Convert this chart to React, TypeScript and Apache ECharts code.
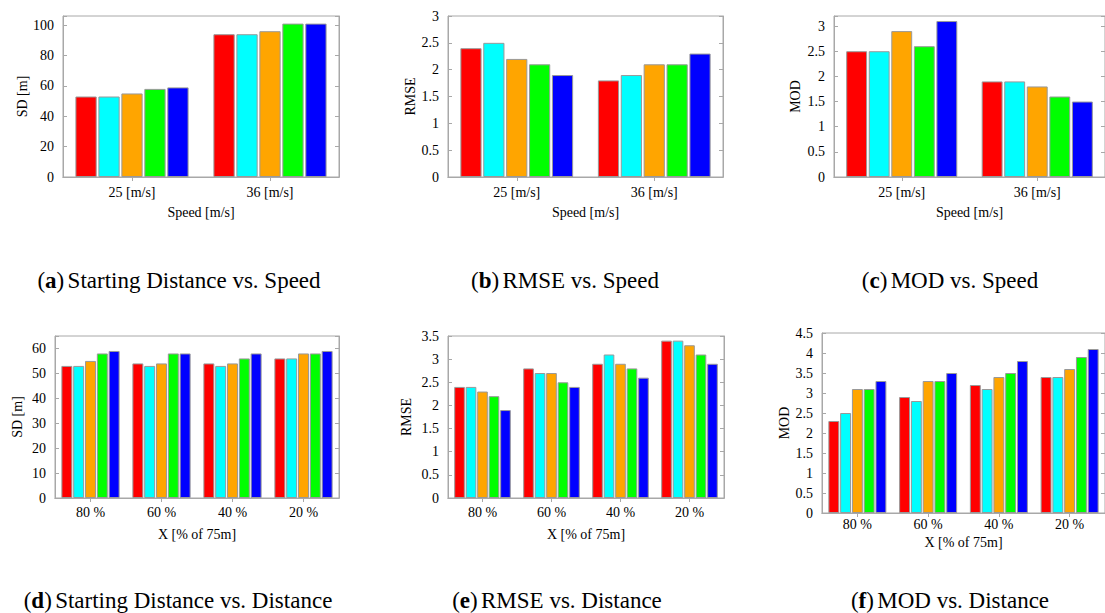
import React, { useEffect, useRef } from "react";
import * as echarts from "echarts";

const speedCats = ["25 [m/s]", "36 [m/s]"];
const distCats = ["80 %", "60 %", "40 %", "20 %"];

const barColors = ["#ff0000", "#00ffff", "#ffa500", "#00ff00", "#0000ff"];

// (a) Starting distance vs speed — one array per bar colour
const sdSpeedRed = [53, 94];
const sdSpeedCyan = [53, 94];
const sdSpeedOrange = [55, 96];
const sdSpeedGreen = [58, 101];
const sdSpeedBlue = [59, 101];

// (b) RMSE vs speed
const rmseSpeedRed = [2.4, 1.8];
const rmseSpeedCyan = [2.5, 1.9];
const rmseSpeedOrange = [2.2, 2.1];
const rmseSpeedGreen = [2.1, 2.1];
const rmseSpeedBlue = [1.9, 2.3];

// (c) MOD vs speed
const modSpeedRed = [2.5, 1.9];
const modSpeedCyan = [2.5, 1.9];
const modSpeedOrange = [2.9, 1.8];
const modSpeedGreen = [2.6, 1.6];
const modSpeedBlue = [3.1, 1.5];

// (d) Starting distance vs distance
const sdDistRed = [53, 54, 54, 56];
const sdDistCyan = [53, 53, 53, 56];
const sdDistOrange = [55, 54, 54, 58];
const sdDistGreen = [58, 58, 56, 58];
const sdDistBlue = [59, 58, 58, 59];

// (e) RMSE vs distance
const rmseDistRed = [2.4, 2.8, 2.9, 3.4];
const rmseDistCyan = [2.4, 2.7, 3.1, 3.4];
const rmseDistOrange = [2.3, 2.7, 2.9, 3.3];
const rmseDistGreen = [2.2, 2.5, 2.8, 3.1];
const rmseDistBlue = [1.9, 2.4, 2.6, 2.9];

// (f) MOD vs distance
const modDistRed = [2.3, 2.9, 3.2, 3.4];
const modDistCyan = [2.5, 2.8, 3.1, 3.4];
const modDistOrange = [3.1, 3.3, 3.4, 3.6];
const modDistGreen = [3.1, 3.3, 3.5, 3.9];
const modDistBlue = [3.3, 3.5, 3.8, 4.1];

const FONT = "'Liberation Serif', 'Times New Roman', serif";
const FRAME = "#a8a8a8";

type Panel = {
  grid: { left: number; top: number; width: number; height: number };
  cats: string[];
  series: number[][];
  yName: string;
  xName: string;
  yMax: number;
  yInterval: number;
  yNameGap: number;
  xLabelMargin: number;
  xNameGap: number;
  caption: { letter: string; text: string; x: number; y: number };
};

const panels: Panel[] = [
  {
    grid: { left: 63, top: 16, width: 276, height: 161 },
    cats: speedCats,
    series: [sdSpeedRed, sdSpeedCyan, sdSpeedOrange, sdSpeedGreen, sdSpeedBlue],
    yName: "SD [m]",
    xName: "Speed [m/s]",
    yMax: 106,
    yInterval: 20,
    yNameGap: 32,
    xLabelMargin: 8,
    xNameGap: 28,
    caption: { letter: "a", text: "Starting Distance vs. Speed", x: 179, y: 280 },
  },
  {
    grid: { left: 448, top: 16, width: 275, height: 161 },
    cats: speedCats,
    series: [rmseSpeedRed, rmseSpeedCyan, rmseSpeedOrange, rmseSpeedGreen, rmseSpeedBlue],
    yName: "RMSE",
    xName: "Speed [m/s]",
    yMax: 3,
    yInterval: 0.5,
    yNameGap: 31,
    xLabelMargin: 8,
    xNameGap: 28,
    caption: { letter: "b", text: "RMSE vs. Speed", x: 565, y: 280 },
  },
  {
    grid: { left: 834, top: 16, width: 276, height: 161 },
    cats: speedCats,
    series: [modSpeedRed, modSpeedCyan, modSpeedOrange, modSpeedGreen, modSpeedBlue],
    yName: "MOD",
    xName: "Speed [m/s]",
    yMax: 3.2,
    yInterval: 0.5,
    yNameGap: 32,
    xLabelMargin: 8,
    xNameGap: 28,
    caption: { letter: "c", text: "MOD vs. Speed", x: 950, y: 280 },
  },
  {
    grid: { left: 55, top: 336, width: 284, height: 162 },
    cats: distCats,
    series: [sdDistRed, sdDistCyan, sdDistOrange, sdDistGreen, sdDistBlue],
    yName: "SD [m]",
    xName: "X [% of 75m]",
    yMax: 65,
    yInterval: 10,
    yNameGap: 31,
    xLabelMargin: 7,
    xNameGap: 29,
    caption: { letter: "d", text: "Starting Distance vs. Distance", x: 178, y: 600 },
  },
  {
    grid: { left: 448, top: 336, width: 276, height: 162 },
    cats: distCats,
    series: [rmseDistRed, rmseDistCyan, rmseDistOrange, rmseDistGreen, rmseDistBlue],
    yName: "RMSE",
    xName: "X [% of 75m]",
    yMax: 3.5,
    yInterval: 0.5,
    yNameGap: 35,
    xLabelMargin: 7,
    xNameGap: 29,
    caption: { letter: "e", text: "RMSE vs. Distance", x: 557, y: 600 },
  },
  {
    grid: { left: 822, top: 333, width: 292, height: 180 },
    cats: distCats,
    series: [modDistRed, modDistCyan, modDistOrange, modDistGreen, modDistBlue],
    yName: "MOD",
    xName: "X [% of 75m]",
    yMax: 4.5,
    yInterval: 0.5,
    yNameGap: 28,
    xLabelMargin: 4,
    xNameGap: 22,
    caption: { letter: "f", text: "MOD vs. Distance", x: 950, y: 600 },
  },
];

function fmtLabel(interval: number) {
  return (v: number) => {
    const k = v / interval;
    if (Math.abs(k - Math.round(k)) > 1e-6) return "";
    return String(+v.toFixed(2));
  };
}

export default function App() {
  const ref = useRef<HTMLDivElement>(null);
  useEffect(() => {
    if (!ref.current) return;
    const chart = echarts.init(ref.current, undefined, { renderer: "svg" });
    const grid: any[] = [];
    const xAxis: any[] = [];
    const yAxis: any[] = [];
    const series: any[] = [];
    const graphic: any[] = [];
    const labelStyle = { fontFamily: FONT, fontSize: 14, color: "#000" };

    panels.forEach((p, i) => {
      grid.push({ ...p.grid, show: true, borderColor: FRAME, borderWidth: 1, backgroundColor: "transparent" });
      xAxis.push({
        type: "category",
        gridIndex: i,
        data: p.cats,
        position: "bottom",
        axisLine: { lineStyle: { color: FRAME } },
        axisTick: { show: false },
        axisLabel: { ...labelStyle, margin: p.xLabelMargin },
        name: p.xName,
        nameLocation: "middle",
        nameGap: p.xNameGap,
        nameTextStyle: { ...labelStyle },
      });
      xAxis.push({
        type: "category",
        gridIndex: i,
        data: p.cats,
        position: "top",
        axisLine: { lineStyle: { color: FRAME } },
        axisTick: { show: true, inside: true, alignWithLabel: true, length: 4, lineStyle: { color: FRAME } },
        axisLabel: { show: false },
      });
      const yCommon = {
        type: "value",
        gridIndex: i,
        min: 0,
        max: p.yMax,
        interval: p.yInterval,
        splitLine: { show: false },
        axisLine: { show: true, lineStyle: { color: FRAME } },
        axisTick: { show: true, inside: true, length: 4, lineStyle: { color: FRAME } },
      };
      yAxis.push({
        ...yCommon,
        position: "left",
        axisLabel: { ...labelStyle, margin: 9, formatter: fmtLabel(p.yInterval) },
        name: p.yName,
        nameLocation: "middle",
        nameGap: p.yNameGap,
        nameRotate: 90,
        nameTextStyle: { ...labelStyle },
      });
      yAxis.push({
        ...yCommon,
        position: "right",
        axisLabel: { show: false },
      });
      p.series.forEach((vals, k) => {
        series.push({
          type: "bar",
          xAxisIndex: 2 * i,
          yAxisIndex: 2 * i,
          data: vals,
          barGap: "8%",
          barCategoryGap: "18%",
          itemStyle: { color: barColors[k], borderColor: "#999", borderWidth: 1 },
        });
      });
      graphic.push({
        type: "text",
        x: p.caption.x,
        y: p.caption.y,
        style: {
          text: `{p|(}{b|${p.caption.letter}}{p|)} {p|${p.caption.text}}`,
          align: "center",
          verticalAlign: "middle",
          rich: {
            p: { fontFamily: FONT, fontSize: 23, color: "#000" },
            b: { fontFamily: FONT, fontSize: 23, fontWeight: "bold", color: "#000" },
          },
        },
      });
    });

    chart.setOption({
      animation: false,
      backgroundColor: "#fff",
      textStyle: { fontFamily: FONT },
      grid,
      xAxis,
      yAxis,
      series,
      graphic,
    });
    return () => chart.dispose();
  }, []);
  return <div ref={ref} style={{ position: "fixed", left: 0, top: 0, width: 1105, height: 613 }} />;
}
